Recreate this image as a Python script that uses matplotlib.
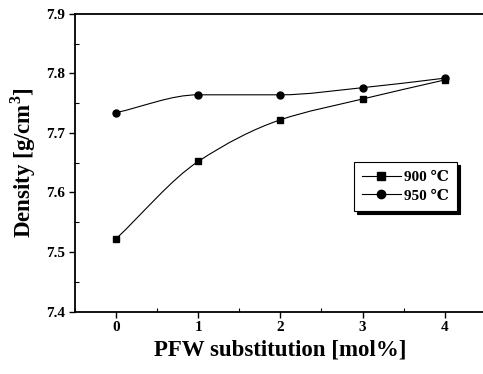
import matplotlib
matplotlib.use("Agg")
import matplotlib.pyplot as plt
import numpy as np
from matplotlib.path import Path
from matplotlib.patches import PathPatch
from matplotlib.ticker import MultipleLocator

plt.rcParams['font.family'] = ['Liberation Serif', 'DejaVu Serif']
plt.rcParams['font.weight'] = 'bold'
plt.rcParams['mathtext.fontset'] = 'custom'
plt.rcParams['mathtext.bf'] = 'Liberation Serif:bold'
plt.rcParams['mathtext.rm'] = 'Liberation Serif:bold'

pfw = [0, 1, 2, 3, 4]
density_900 = [7.522, 7.652, 7.722, 7.757, 7.789]
density_950 = [7.734, 7.764, 7.764, 7.776, 7.792]
labels = ['900 \u2103', '950 \u2103']


def smooth_path(x, y):
    # monotone cubic (Fritsch-Carlson) rendered as Bezier segments
    x = np.asarray(x, float)
    y = np.asarray(y, float)
    n = len(x)
    h = np.diff(x)
    d = np.diff(y) / h
    m = np.zeros(n)
    m[0], m[-1] = d[0], d[-1]
    for i in range(1, n - 1):
        if d[i - 1] * d[i] <= 0:
            m[i] = 0
        else:
            w1 = 2 * h[i] + h[i - 1]
            w2 = h[i] + 2 * h[i - 1]
            m[i] = (w1 + w2) / (w1 / d[i - 1] + w2 / d[i])
    verts = [(x[0], y[0])]
    codes = [Path.MOVETO]
    for i in range(n - 1):
        c1 = (x[i] + h[i] / 3, y[i] + m[i] * h[i] / 3)
        c2 = (x[i + 1] - h[i] / 3, y[i + 1] - m[i + 1] * h[i] / 3)
        verts += [c1, c2, (x[i + 1], y[i + 1])]
        codes += [Path.CURVE4] * 3
    return Path(verts, codes)


fig = plt.figure(figsize=(4.83, 3.74), dpi=100)
ax = fig.add_axes([0.155, 0.167, 0.851, 0.796])

for yv, mk, lab in [(density_900, 's', labels[0]), (density_950, 'o', labels[1])]:
    ax.add_patch(PathPatch(smooth_path(pfw, yv), fill=False, edgecolor='black', lw=0.8))
    ax.plot(pfw, yv, linestyle='none', marker=mk, color='black', markersize=5)
    ax.plot([], [], color='black', lw=0.8, marker=mk, markersize=6, label=lab)

ax.set_xlim(-0.5, 4.5)
ax.set_ylim(7.4, 7.9)
ax.set_xticks(pfw)
ax.set_yticks([7.4, 7.5, 7.6, 7.7, 7.8, 7.9])
ax.xaxis.set_minor_locator(MultipleLocator(0.5))
ax.yaxis.set_minor_locator(MultipleLocator(0.05))
ax.tick_params(which='major', direction='out', length=4, width=1, labelsize=11, pad=3)
ax.tick_params(which='minor', direction='in', length=3, width=0.8)
for lbl in ax.get_xticklabels() + ax.get_yticklabels():
    lbl.set_fontweight('bold')
for s in ax.spines.values():
    s.set_linewidth(1.3)

ax.set_xlabel('PFW substitution [mol%]', fontsize=16.5, fontweight='bold', labelpad=4)
ax.set_ylabel('Density [g/cm$^{3}$]', fontsize=16.5, fontweight='bold', labelpad=6)

leg = ax.legend(loc='lower left', bbox_to_anchor=(0.679, 0.338), fancybox=False,
                shadow={'color': 'black', 'alpha': 1}, edgecolor='black', fontsize=11,
                handlelength=2.5, borderpad=0.55, labelspacing=0.3, handletextpad=0.2,
                borderaxespad=0)
leg.get_frame().set_linewidth(0.8)
for t in leg.get_texts():
    t.set_fontweight('bold')

fig.savefig('out.png', dpi=100)
